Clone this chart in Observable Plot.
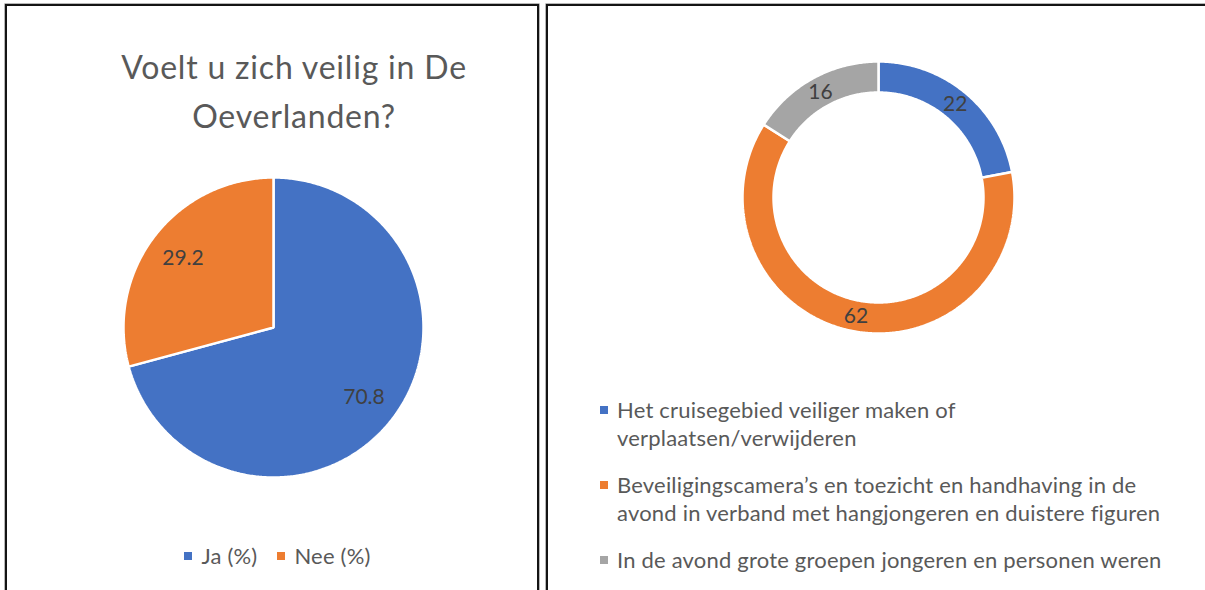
<!DOCTYPE html>
<html><head><meta charset="utf-8">
<script src="https://cdn.jsdelivr.net/npm/d3@7"></script>
<script src="https://cdn.jsdelivr.net/npm/@observablehq/plot@0.6"></script>
<style>
html,body{margin:0;padding:0;background:#fff;}
body{width:1205px;height:590px;overflow:hidden;position:relative;font-family:Lato,"Open Sans",sans-serif;}
.panel{position:absolute;border:2px solid #141414;box-sizing:border-box;box-shadow:0 0 0 0.6px #888;}
.abs{position:absolute;}
#title{left:84px;top:42px;width:420px;text-align:center;font-size:32px;letter-spacing:0.8px;line-height:49px;color:#595959;}
#leg1{left:11px;top:542px;width:533px;text-align:center;font-size:22px;letter-spacing:0.2px;color:#595959;line-height:28px;white-space:nowrap;}
#leg1 .it{display:inline-block;margin:0 10px;}
.sw{display:inline-block;width:8px;height:8px;margin-right:9px;vertical-align:middle;position:relative;top:-2px;}
#leg2{left:600px;top:396px;width:590px;font-size:22px;letter-spacing:0.2px;color:#595959;line-height:27.5px;}
#leg2 .row{display:flex;align-items:flex-start;margin-bottom:20px;}
#leg2 .row .sw{flex:none;margin-top:10px;margin-right:9px;top:0;}
</style></head><body>
<div class="panel" style="left:5px;top:4px;width:534px;height:640px"></div>
<div class="panel" style="left:546px;top:4px;width:700px;height:640px"></div>
<div id="title" class="abs"></div>
<div id="pie" class="abs"></div>
<div id="donut" class="abs"></div>
<div id="leg1" class="abs"></div>
<div id="leg2" class="abs"></div>
<script>
// ---- data ----
const pieTitle = "Voelt u zich veilig in De Oeverlanden?";
const pieCategories = ["Ja (%)", "Nee (%)"];
const pieValues = [70.8, 29.2];
const pieLabels = ["70.8", "29.2"];
const donutCategories = [
  "Het cruisegebied veiliger maken of verplaatsen/verwijderen",
  "Beveiligingscamera’s en toezicht en handhaving in de avond in verband met hangjongeren en duistere figuren",
  "In de avond grote groepen jongeren en personen weren"
];
const donutValues = [22, 62, 16];
const donutLabels = ["22", "62", "16"];
const palette = ["#4472C4", "#ED7D31", "#A5A5A5"];

// ---- helpers ----
function slices(cats, vals, rInner, rOuter) {
  const arcs = d3.pie().sort(null).value(d => d)(vals);
  const rows = [];
  arcs.forEach((a, i) => {
    const n = Math.max(2, Math.ceil((a.endAngle - a.startAngle) / 0.01));
    for (let k = 0; k <= n; k++) {
      const t = a.startAngle + (a.endAngle - a.startAngle) * k / n;
      rows.push({cat: cats[i], x: rOuter * Math.sin(t), y: rOuter * Math.cos(t)});
    }
    if (rInner > 0) {
      for (let k = n; k >= 0; k--) {
        const t = a.startAngle + (a.endAngle - a.startAngle) * k / n;
        rows.push({cat: cats[i], x: rInner * Math.sin(t), y: rInner * Math.cos(t)});
      }
    } else {
      rows.push({cat: cats[i], x: 0, y: 0});
    }
  });
  return rows;
}
function labelPos(cats, vals, labels, r) {
  const arcs = d3.pie().sort(null).value(d => d)(vals);
  return arcs.map((a, i) => {
    const t = (a.startAngle + a.endAngle) / 2;
    return {cat: cats[i], text: labels[i], x: r * Math.sin(t), y: r * Math.cos(t)};
  });
}
function ring(cats, vals, labels, rInner, labelR, size) {
  return Plot.plot({
    width: size, height: size, margin: 5,
    x: {domain: [-1, 1], axis: null},
    y: {domain: [-1, 1], axis: null},
    color: {domain: cats, range: palette.slice(0, cats.length)},
    style: {background: "transparent", overflow: "visible"},
    marks: [
      Plot.line(slices(cats, vals, rInner, 1), {
        x: "x", y: "y", z: "cat", fill: "cat", stroke: "white", strokeWidth: 2.5,
        curve: "linear-closed", strokeLinejoin: "miter"
      }),
      Plot.text(labelPos(cats, vals, labels, labelR), {
        x: "x", y: "y", text: "text", fill: "#404040", fontSize: 21,
        fontFamily: "Lato, 'Open Sans', sans-serif"
      })
    ]
  });
}

// ---- title ----
document.getElementById("title").textContent = pieTitle;

// ---- pie ----
const pieSvg = ring(pieCategories, pieValues, pieLabels, 0, 0.76, 310);
const pieDiv = document.getElementById("pie");
pieDiv.style.left = (273 - 155) + "px";
pieDiv.style.top = (327 - 155) + "px";
pieDiv.appendChild(pieSvg);

// ---- donut ----
const donutSvg = ring(donutCategories, donutValues, donutLabels, 0.772, 0.886, 282);
const donutDiv = document.getElementById("donut");
donutDiv.style.left = (878 - 141) + "px";
donutDiv.style.top = (197 - 141) + "px";
donutDiv.appendChild(donutSvg);

// ---- legends ----
const leg1 = document.getElementById("leg1");
pieCategories.forEach((c, i) => {
  const it = document.createElement("span");
  it.className = "it";
  const sw = document.createElement("span");
  sw.className = "sw"; sw.style.background = palette[i];
  it.appendChild(sw);
  it.appendChild(document.createTextNode(c));
  leg1.appendChild(it);
});
const leg2 = document.getElementById("leg2");
donutCategories.forEach((c, i) => {
  const row = document.createElement("div");
  row.className = "row";
  const sw = document.createElement("span");
  sw.className = "sw"; sw.style.background = palette[i];
  const tx = document.createElement("span");
  tx.textContent = c;
  row.appendChild(sw); row.appendChild(tx);
  leg2.appendChild(row);
});
</script>
</body></html>
